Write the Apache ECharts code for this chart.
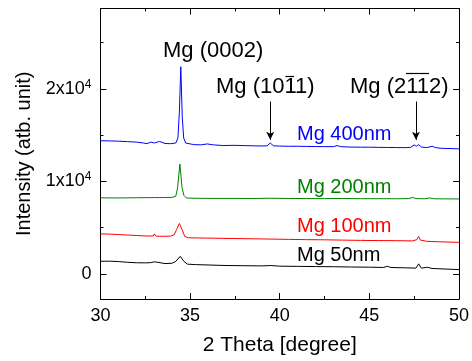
<!DOCTYPE html>
<html><head><meta charset="utf-8">
<script src="https://cdn.jsdelivr.net/npm/echarts@6/dist/echarts.min.js"></script>
<style>html,body{margin:0;padding:0;background:#fff}#c{width:472px;height:361px}</style>
</head><body><div id="c"></div>
<script>
// 2 Theta [degree], intensity (counts, stacked offsets as in the figure)
const mg400 = [[30,14400],[30.5,14380],[31,14350],[31.5,14300],[32,14250],[32.4,14150],[32.6,14080],[32.8,14250],[33.0,14150],[33.3,14320],[33.6,14100],[33.9,14080],[34.2,14150],[34.32,14700],[34.4,17500],[34.48,22400],[34.56,17000],[34.64,14700],[34.75,14150],[35.2,13980],[35.6,13950],[35.95,14050],[36.3,13950],[36.8,13880],[37.5,13900],[38,13870],[38.5,13850],[39,13830],[39.3,13850],[39.47,14150],[39.65,13850],[40,13820],[40.5,13800],[41,13800],[41.5,13780],[42,13770],[42.5,13760],[43,13760],[43.2,13880],[43.4,13760],[43.8,13720],[44.5,13700],[45,13700],[45.5,13680],[46,13670],[46.5,13660],[47,13650],[47.3,13680],[47.5,13950],[47.62,13800],[47.75,13980],[47.9,13720],[48.2,13650],[48.5,13800],[48.7,13650],[49,13580],[49.5,13550],[50,13520]];
const mg200 = [[30,8220],[31,8210],[32,8230],[33,8250],[33.5,8250],[34,8270],[34.2,8400],[34.3,9300],[34.43,11880],[34.55,9300],[34.65,8500],[34.8,8200],[35.5,8170],[36.5,8160],[37.5,8160],[38.5,8150],[39.5,8180],[40.5,8150],[41.5,8140],[42.5,8140],[43.5,8150],[44.5,8130],[45.5,8130],[46.5,8120],[47.2,8140],[47.4,8270],[47.6,8140],[48.1,8120],[48.35,8210],[48.6,8120],[49.2,8110],[50,8100]];
const mg100 = [[30,4320],[30.5,4300],[31,4250],[31.5,4200],[32,4150],[32.5,4100],[32.95,4090],[33.0,4320],[33.1,4080],[33.5,4060],[33.9,4080],[34.1,4200],[34.25,4800],[34.4,5450],[34.55,4800],[34.7,4050],[34.9,3900],[35.5,3880],[36.5,3850],[37.5,3820],[38.5,3790],[39.5,3760],[40.5,3730],[41.5,3700],[42.5,3680],[43.5,3650],[44.5,3620],[45.5,3600],[46.5,3590],[47.4,3560],[47.65,3700],[47.75,4050],[47.85,3650],[48.2,3520],[49,3460],[50,3410]];
const mg50 = [[30,1360],[30.5,1370],[31,1330],[31.5,1250],[32,1200],[32.5,1190],[32.8,1210],[33.0,1300],[33.1,1440],[33.2,1250],[33.6,1110],[34.0,1150],[34.2,1350],[34.45,1900],[34.65,1350],[34.85,1050],[35.3,1000],[36,960],[37,900],[38,880],[39,860],[39.5,900],[40,830],[41,810],[42,790],[43,770],[44,740],[45,720],[45.8,690],[46.0,820],[46.2,690],[47,650],[47.6,620],[47.75,1080],[47.9,620],[48.25,710],[48.5,580],[49,540],[50,460]];
const seriesNames = ['Mg 400nm','Mg 200nm','Mg 100nm','Mg 50nm'];
const seriesColors = ['#0000ff','#008000','#ff0000','#000000'];
const yMajor = [0,10000,20000];
const yMinor = [5000,15000,25000];
const peakArrows = [[39.47,18640,14500],[47.6,18640,14500]];

const FONT = 'Liberation Sans, Arial, Helvetica, sans-serif';
const chart = echarts.init(document.getElementById('c'));
const yBase = {type:'value',min:-2720,max:28700,splitLine:{show:false},
  axisLine:{show:true,lineStyle:{color:'#000',width:1}}};
function yAx(pos, vals, len, labels){
  return Object.assign({}, yBase, {position:pos,
    axisLine:{show:true,onZero:false,lineStyle:{color:'#000',width:1}},
    axisTick:{show:true,inside:true,length:len,customValues:vals,lineStyle:{color:'#000'}},
    axisLabel: labels ? {show:true,customValues:vals,margin:9,color:'#000',fontFamily:FONT,fontSize:18,
      formatter:function(v){ if(v===0) return '0'; return (v/10000)+'x10{sup|4}'; },
      rich:{sup:{fontSize:12,fontFamily:FONT,color:'#000',padding:[0,0,9,0]}}} : {show:false}
  });
}
const xBase = {type:'value',min:30,max:50,interval:5,splitLine:{show:false},
  axisLine:{show:true,onZero:false,lineStyle:{color:'#000',width:1}},
  axisTick:{show:true,inside:true,length:6,lineStyle:{color:'#000'}},
  minorTick:{show:true,splitNumber:2,length:3,lineStyle:{color:'#000'}}};
const series = [mg400,mg200,mg100,mg50].map((d,i)=>({
  name:seriesNames[i],type:'line',data:d,showSymbol:false,symbol:'none',
  lineStyle:{color:seriesColors[i],width:1},itemStyle:{color:seriesColors[i]},
  animation:false,z:3
}));
series[0].markLine = {silent:true,symbol:['none','arrow'],symbolSize:[6,8],animation:false,
  lineStyle:{color:'#000',width:1,type:'solid'},label:{show:false},
  data: peakArrows.map(a=>[{coord:[a[0],a[1]]},{coord:[a[0],a[2]]}])};
const txt = (s,x,y,color,size)=>({type:'text',left:x,top:y-size/2-1,silent:true,
  style:{text:s,fill:color,font:size+'px '+FONT}});
chart.setOption({
  animation:false,
  grid:{left:100.5,right:10.5,top:8.5,bottom:61.5},
  xAxis:[Object.assign({},xBase,{position:'bottom',name:'2 Theta [degree]',nameLocation:'middle',nameGap:36,
      nameTextStyle:{fontSize:21,color:'#000',fontFamily:FONT},
      axisLabel:{show:true,margin:8,color:'#000',fontFamily:FONT,fontSize:18}}),
    Object.assign({},xBase,{position:'top',axisLabel:{show:false}})],
  yAxis:[Object.assign(yAx('left',yMajor,6,true),{name:'Intensity (atb. unit)',nameLocation:'middle',nameGap:66,nameRotate:90,
      nameTextStyle:{fontSize:20,color:'#000',fontFamily:FONT}}),
    yAx('left',yMinor,3,false),yAx('right',yMajor,6,false),yAx('right',yMinor,3,false)],
  series:series,
  graphic:[
    txt('Mg (0002)',163,52,'#000',22),
    txt('Mg (1011)',216,88,'#000',22),
    txt('Mg (2112)',350,88,'#000',22),
    txt('Mg 400nm',297,135,'#0000ff',20),
    txt('Mg 200nm',297,188,'#008000',20),
    txt('Mg 100nm',297,227,'#ff0000',20),
    txt('Mg 50nm',297,256,'#000',20),
    {type:'line',silent:true,shape:{x1:285.5,y1:76.5,x2:294,y2:76.5},style:{stroke:'#000',lineWidth:1.2}},
    {type:'line',silent:true,shape:{x1:406,y1:73.5,x2:429,y2:73.5},style:{stroke:'#000',lineWidth:1.2}}
  ]
});
</script></body></html>
